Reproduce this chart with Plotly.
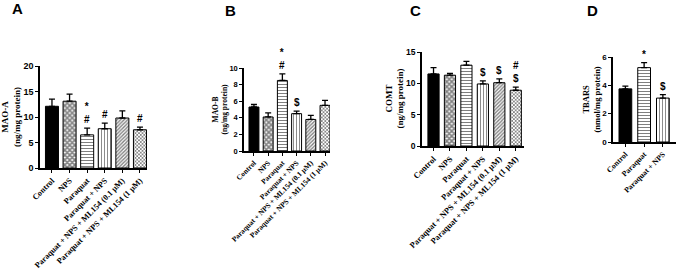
import plotly.graph_objects as go

W, H = 677, 270

cats6 = ["Control", "NPS", "Paraquat", "Paraquat + NPS",
         "Paraquat + NPS + ML154 (0.1 μM)", "Paraquat + NPS + ML154 (1 μM)"]
cats3 = ["Control", "Paraquat", "Paraquat + NPS"]

maoa = [12.1, 13.1, 6.5, 7.7, 9.8, 7.5]
maoa_err = [1.4, 1.4, 1.3, 1.1, 1.4, 0.5]
maoa_sig = ["", "", "*<br>#", "#", "", "#"]

maob = [5.3, 4.1, 8.5, 4.5, 3.8, 5.5]
maob_err = [0.3, 0.5, 0.8, 0.3, 0.5, 0.6]
maob_sig = ["", "", "*<br>#", "$", "", ""]

comt = [11.5, 11.3, 12.9, 9.9, 10.1, 8.9]
comt_err = [1.0, 0.3, 0.6, 0.5, 0.6, 0.5]
comt_sig = ["", "", "", "$", "$", "#<br>$"]

tbars = [3.75, 5.25, 3.1]
tbars_err = [0.2, 0.35, 0.25]
tbars_sig = ["", "*", "$"]

shapes6 = ["", "x", "-", "|", "/", "x"]
sizes6 = [6, 3.5, 3, 3, 2.5, 2.5]
solid6 = [0.3, 0.7, 0.35, 0.3, 0.55, 0.55]
shapes3 = ["", "-", "|"]
sizes3 = [6, 3, 3]
solid3 = [0.3, 0.35, 0.3]

panels = [
    dict(name="A", cats=cats6, vals=maoa, err=maoa_err, sig=maoa_sig, sh=shapes6, sz=sizes6, so=solid6,
         x0=40, x1=147, yb=168, yt=66, ymax=20, dtick=5, xr=[-0.68, 5.4], bw=0.74,
         ytitle="MAO-A<br>(ng/mg protein)", tx=11, tfs=9, xfs=8.2, yfs=9,
         letter_x=17, letter_y=8),
    dict(name="B", cats=cats6, vals=maob, err=maob_err, sig=maob_sig, sh=shapes6, sz=sizes6, so=solid6,
         x0=244, x1=330, yb=151, yt=68, ymax=10, dtick=2, xr=[-0.7, 5.35], bw=0.7,
         ytitle="MAO-B<br>(ng/mg protein)", tx=220, tfs=7.5, xfs=7.4, yfs=7.5,
         letter_x=230, letter_y=10),
    dict(name="C", cats=cats6, vals=comt, err=comt_err, sig=comt_sig, sh=shapes6, sz=sizes6, so=solid6,
         x0=422, x1=524, yb=146, yt=52, ymax=15, dtick=5, xr=[-0.7, 5.5], bw=0.68,
         ytitle="COMT<br>(ng/mg protein)", tx=394.5, tfs=9, xfs=8.4, yfs=8.5,
         letter_x=415, letter_y=10),
    dict(name="D", cats=cats3, vals=tbars, err=tbars_err, sig=tbars_sig, sh=shapes3, sz=sizes3, so=solid3,
         x0=613, x1=676, yb=142, yt=57, ymax=6, dtick=2, xr=[-0.66, 2.7], bw=0.68,
         ytitle="TBARS<br>(nmol/mg protein)", tx=591, tfs=8.5, xfs=7.8, yfs=8,
         letter_x=592, letter_y=10),
]

fig = go.Figure()
annotations = []
layout = {}

for i, p in enumerate(panels):
    idx = "" if i == 0 else str(i + 1)
    xa, ya = "x" + idx, "y" + idx
    n = len(p["cats"])
    for j in range(n):
        solid_bar = p["sh"][j] == ""
        marker = dict(color="black" if solid_bar else "white",
                      line=dict(color="black", width=1))
        if not solid_bar:
            marker["pattern"] = dict(shape=p["sh"][j], size=p["sz"][j], solidity=p["so"][j],
                                     fgcolor="black", bgcolor="white")
        fig.add_trace(go.Bar(
            x=[j], y=[p["vals"][j]], xaxis=xa, yaxis=ya, width=p["bw"],
            marker=marker,
            error_y=dict(type="data", array=[p["err"][j]], arrayminus=[0], symmetric=False,
                         color="black", thickness=1.3, width=3),
            showlegend=False, hoverinfo="skip"))
    layout["xaxis" + idx] = dict(
        domain=[p["x0"] / W, p["x1"] / W], anchor=ya, range=p["xr"], automargin=False,
        tickmode="array", tickvals=list(range(n)), ticktext=p["cats"], tickangle=-45,
        ticks="outside", ticklen=3, tickwidth=1, tickcolor="black",
        showline=True, linecolor="black", linewidth=1.5, showgrid=False, zeroline=False,
        tickfont=dict(family="Liberation Serif", size=p["xfs"], color="black", weight="bold"),
        fixedrange=True)
    layout["yaxis" + idx] = dict(
        domain=[(H - p["yb"]) / H, (H - p["yt"]) / H], anchor=xa, range=[0, p["ymax"]],
        automargin=False,
        tickmode="linear", tick0=0, dtick=p["dtick"],
        ticks="outside", ticklen=3, tickwidth=1, tickcolor="black",
        showline=True, linecolor="black", linewidth=1.5, showgrid=False, zeroline=False,
        tickfont=dict(family="Liberation Sans", size=p["yfs"], color="black", weight="bold"),
        fixedrange=True)
    for j in range(n):
        if p["sig"][j]:
            annotations.append(dict(
                x=j, y=p["vals"][j] + p["err"][j], xref=xa, yref=ya,
                text=p["sig"][j], showarrow=False, yanchor="bottom", yshift=1,
                font=dict(family="Liberation Sans", size=10, color="black", weight="bold")))
    annotations.append(dict(
        x=p["tx"] / W, y=(H - (p["yb"] + p["yt"]) / 2) / H, xref="paper", yref="paper",
        text=p["ytitle"], textangle=-90, showarrow=False, xanchor="center", yanchor="middle",
        font=dict(family="Liberation Serif", size=p["tfs"], color="black", weight="bold")))
    annotations.append(dict(
        x=p["letter_x"] / W, y=(H - p["letter_y"]) / H, xref="paper", yref="paper",
        text=p["name"], showarrow=False, xanchor="center", yanchor="middle",
        font=dict(family="Liberation Sans", size=15, color="black", weight="bold")))

fig.update_layout(**layout)
fig.update_layout(
    width=W, height=H, margin=dict(l=0, r=0, t=0, b=0),
    paper_bgcolor="white", plot_bgcolor="white",
    annotations=annotations, barmode="overlay")

fig.write_html("out.html")
